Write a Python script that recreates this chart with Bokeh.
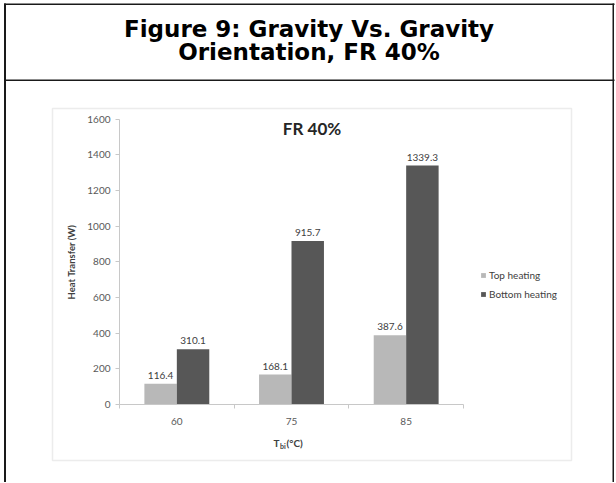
from bokeh.plotting import figure
from bokeh.models import (ColumnDataSource, Range1d, LinearAxis, FixedTicker,
                          Label, BoxAnnotation, Legend, LegendItem)
from bokeh.transform import dodge
from bokeh.core.properties import value
from bokeh.embed import file_html
from bokeh.resources import INLINE

# ---------------- data ----------------
categories = ["60", "75", "85"]
top_heating = [116.4, 168.1, 387.6]
bottom_heating = [310.1, 915.7, 1339.3]
y_ticks = [0, 200, 400, 600, 800, 1000, 1200, 1400, 1600]
y_max = 1600
series_names = ["Top heating", "Bottom heating"]
fig_title = ["Figure 9: Gravity Vs. Gravity", "Orientation, FR 40%"]
chart_title = "FR 40%"
y_label = "Heat Transfer (W)"
x_label_parts = ["T", "bi", "(\u00b0C)"]

# ---------------- layout (canvas pixels) ----------------
W, H = 615, 482
FL, FR, FT, FB = 119, 463, 118.5, 404        # plot area of the inner chart
AXIS_GRAY = "#c8c8c8"
TXT = "#404040"
n = len(categories)

kx = n / (FR - FL)
ky = y_max / (FB - FT)
x_range = Range1d(-FL * kx, n + (W - FR) * kx)
y_range = Range1d(-(H - FB) * ky, y_max + FT * ky)

p = figure(width=W, height=H, x_range=x_range, y_range=y_range,
           x_axis_type=None, y_axis_type=None,
           output_backend="svg", toolbar_location=None,
           min_border=0, outline_line_color=None,
           background_fill_color="white", border_fill_color="white")
p.grid.visible = False

# pixel helper ranges for decorations (origin top-left)
p.extra_x_ranges = {"px": Range1d(0, W)}
p.extra_y_ranges = {"px": Range1d(H, 0)}

# y axis
yaxis = LinearAxis(ticker=FixedTicker(ticks=y_ticks), fixed_location=0, bounds=(0, y_max),
                   axis_line_color=AXIS_GRAY, major_tick_line_color=AXIS_GRAY,
                   major_tick_out=4, major_tick_in=0, minor_tick_line_color=None,
                   major_label_text_font="Lato", major_label_text_font_size="10px",
                   major_label_text_color="#595959", major_label_standoff=5,
                   axis_label=y_label, axis_label_text_font="Lato",
                   axis_label_text_font_style="bold", axis_label_text_font_size="9.5px",
                   axis_label_text_color=TXT, axis_label_standoff=7)
p.add_layout(yaxis, "left")

# x axis: labels at category centres, tick marks at category boundaries
centers = [i + 0.5 for i in range(n)]
bounds = list(range(n + 1))
xaxis = LinearAxis(ticker=FixedTicker(ticks=centers, minor_ticks=bounds),
                   fixed_location=0, bounds=(0, n),
                   major_label_overrides={c: lab for c, lab in zip(centers, categories)},
                   axis_line_color=AXIS_GRAY, major_tick_line_color=None,
                   major_tick_out=0, major_tick_in=0,
                   minor_tick_line_color=AXIS_GRAY, minor_tick_out=4, minor_tick_in=0,
                   major_label_text_font="Lato", major_label_text_font_size="10px",
                   major_label_text_color="#595959", major_label_standoff=9)
p.add_layout(xaxis, "below")

# bars
src = ColumnDataSource(dict(
    xc=centers, cat=categories, top=top_heating, bottom=bottom_heating,
    top_lbl=[f"{v:.1f}" for v in top_heating],
    bottom_lbl=[f"{v:.1f}" for v in bottom_heating]))

bar_w = 0.283
off = bar_w / 2
r_top = p.vbar(x=dodge("xc", -off), top="top", width=bar_w, source=src,
               fill_color="#b8b8b8", line_color=None)
r_bot = p.vbar(x=dodge("xc", off), top="bottom", width=bar_w, source=src,
               fill_color="#575757", line_color=None)

for xoff, col in ((-off, "top"), (off, "bottom")):
    p.text(x=dodge("xc", xoff), y=col, text=col + "_lbl", source=src,
           text_align="center", text_baseline="bottom", y_offset=-5,
           text_font=value("Lato"), text_font_size="10px", text_color=TXT)

# legend
legend = Legend(items=[LegendItem(label=series_names[0], renderers=[r_top]),
                       LegendItem(label=series_names[1], renderers=[r_bot])],
                location=(480, 182), orientation="vertical",
                glyph_width=6, glyph_height=6, label_standoff=3, spacing=7,
                label_height=12, padding=0, margin=0,
                border_line_color=None, background_fill_alpha=0,
                label_text_font="Lato", label_text_font_size="10px", label_text_color=TXT)
p.add_layout(legend)

# ---------------- decorations (pixel helper ranges) ----------------
def box(l, r, t, b, **kw):
    p.add_layout(BoxAnnotation(left=l, right=r, top=t, bottom=b,
                               x_range_name="px", y_range_name="px", **kw))

# chart area frame
box(52, 571, 108, 460, fill_color=None, fill_alpha=0, line_color="#bfbfbf", line_width=1.5)
# outer figure box lines
LINE = "#1a1a1a"
box(3.5, 5.5, 3, H, fill_color=LINE, fill_alpha=1, line_color=None)
box(3.5, 614, 3, 4.5, fill_color=LINE, fill_alpha=1, line_color=None)
box(612, 613.5, 3, H, fill_color=LINE, fill_alpha=1, line_color=None)
box(3.5, 614, 79, 80.5, fill_color=LINE, fill_alpha=1, line_color=None)

def label(x, y, text, **kw):
    p.add_layout(Label(x=x, y=y, text=text, x_range_name="px", y_range_name="px",
                       text_baseline="middle", **kw))

for i, t in enumerate(fig_title):
    label(308.5, 28 + 23 * i, t, text_align="center",
          text_font="DejaVu Sans", text_font_style="bold", text_font_size="23px",
          text_color="black")

label(311.5, 128, chart_title, text_align="center",
      text_font="Lato", text_font_style="bold", text_font_size="17px", text_color="#262626")

label(273, 442, x_label_parts[0], text_align="left",
      text_font="Lato", text_font_style="bold", text_font_size="10px", text_color=TXT)
label(279.5, 445, x_label_parts[1], text_align="left",
      text_font="Lato", text_font_style="bold", text_font_size="7px", text_color=TXT)
label(286, 442, x_label_parts[2], text_align="left",
      text_font="Lato", text_font_style="bold", text_font_size="10px", text_color=TXT)

open("out.html", "w").write(file_html(p, INLINE))
